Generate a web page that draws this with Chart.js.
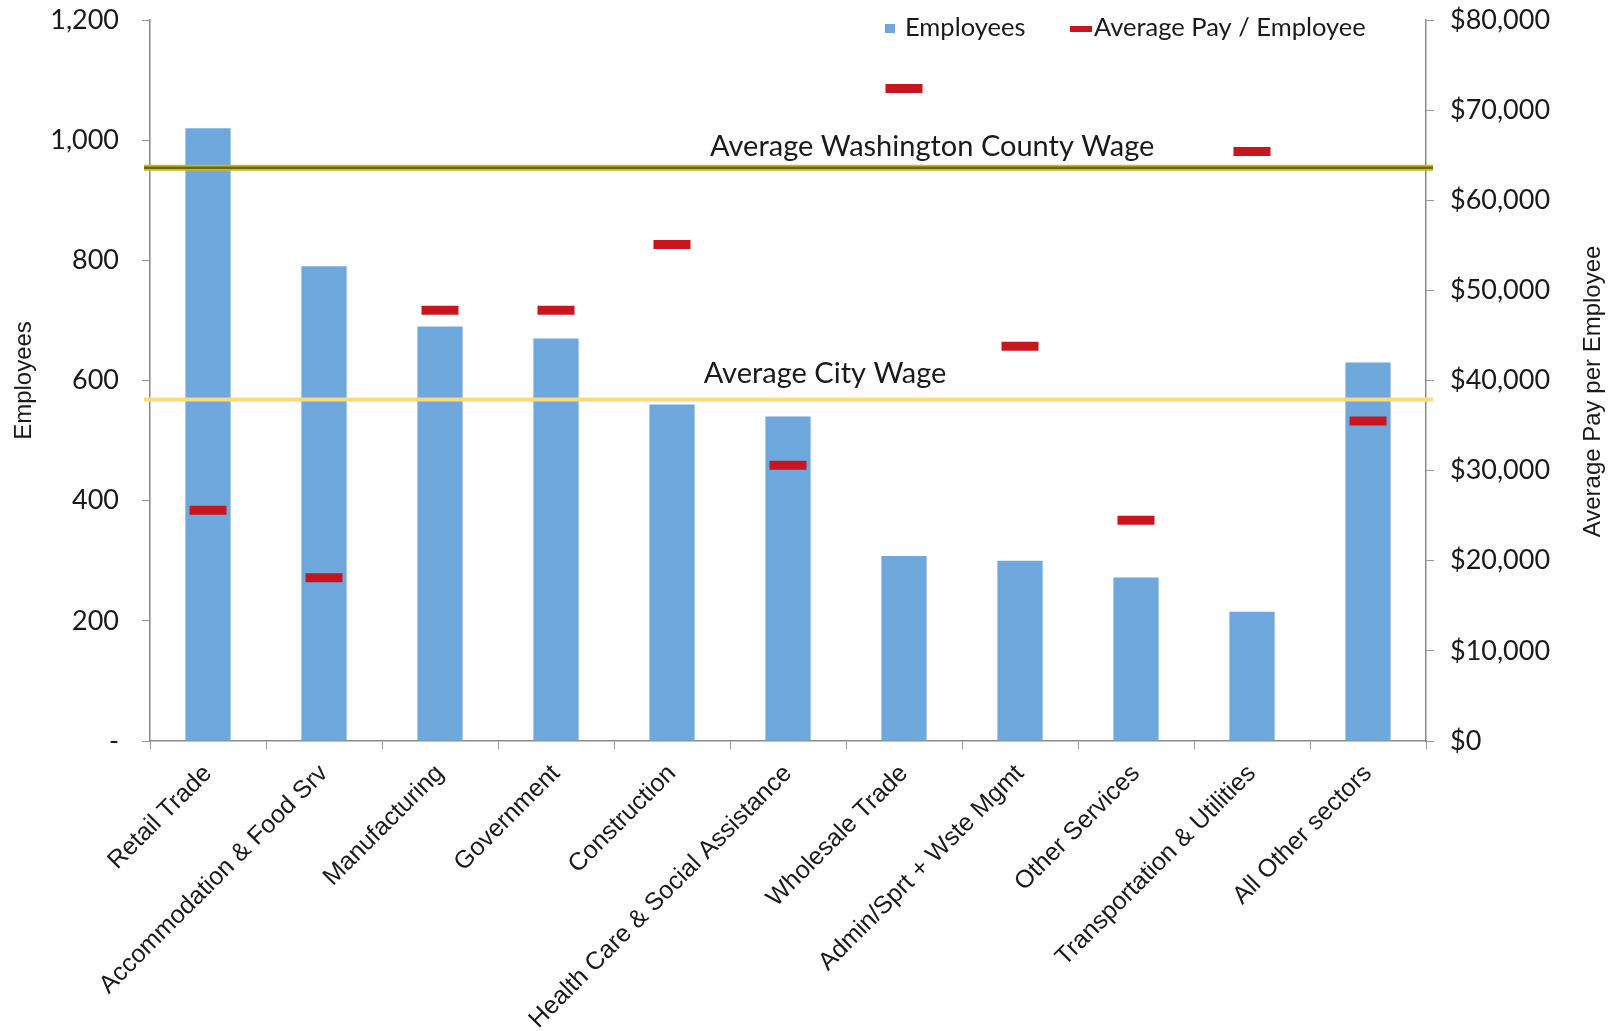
<!DOCTYPE html>
<html lang="en">
<head>
<meta charset="UTF-8">
<title>Employees and Average Pay by Sector</title>
<script src="https://cdn.jsdelivr.net/npm/chart.js"></script>
<style>
  body { margin: 0; background: #fff; }
  canvas { display: block; }
</style>
</head>
<body>
<canvas id="sectorChart" width="1613" height="1031"></canvas>
<script>
// sector data
const sectors = [
    'Retail Trade', 'Accommodation & Food Srv', 'Manufacturing', 'Government',
    'Construction', 'Health Care & Social Assistance', 'Wholesale Trade',
    'Admin/Sprt + Wste Mgmt', 'Other Services', 'Transportation & Utilities',
    'All Other sectors'
];
const employees = [1020, 790, 690, 670, 560, 540, 308, 300, 272, 215, 630];
const avgPay = [25600, 18100, 47800, 47800, 55100, 30600, 72400, 43800, 24500, 65400, 35500];

// reference wages
const countyWage = 63600;
const cityWage = 37900;

const employeeTicks = [0, 200, 400, 600, 800, 1000, 1200];
const payTicks = [0, 10000, 20000, 30000, 40000, 50000, 60000, 70000, 80000];

const BAR_BLUE = '#6fa8dc';
const PAY_RED = '#c8161e';
const TEXT = '#1a1a1a';
const LABEL_FONT = 'Lato';
const AXIS_FONT = '"Liberation Sans", Arial, sans-serif';

// horizontal wage lines + their captions
const wageLines = {
    id: 'wageLines',
    afterDatasetsDraw(chart) {
        const { ctx, chartArea } = chart;
        const pay = chart.scales.y1;
        const x0 = chartArea.left - 6;
        const x1 = chartArea.right + 7;
        const w = chartArea.right - chartArea.left;

        ctx.save();
        ctx.lineCap = 'butt';

        // county wage: olive line with yellow edges
        let y = pay.getPixelForValue(countyWage);
        ctx.strokeStyle = '#c4bc22';
        ctx.lineWidth = 6;
        ctx.beginPath(); ctx.moveTo(x0, y); ctx.lineTo(x1, y); ctx.stroke();
        ctx.strokeStyle = '#6e690a';
        ctx.lineWidth = 2.5;
        ctx.beginPath(); ctx.moveTo(x0, y); ctx.lineTo(x1, y); ctx.stroke();

        ctx.fillStyle = TEXT;
        ctx.font = '29px ' + LABEL_FONT;
        ctx.textAlign = 'center';
        ctx.textBaseline = 'middle';
        ctx.fillText('Average Washington County Wage', chartArea.left + w * 0.613, y - 21);

        // city wage: pale yellow line
        y = pay.getPixelForValue(cityWage);
        ctx.strokeStyle = '#fbd97c';
        ctx.lineWidth = 4;
        ctx.beginPath(); ctx.moveTo(x0, y); ctx.lineTo(x1, y); ctx.stroke();
        ctx.fillText('Average City Wage', chartArea.left + w * 0.529, y - 26);

        ctx.restore();
    }
};

// legend inside the plot (top right) and the right axis title read bottom-up
const extraText = {
    id: 'extraText',
    afterDraw(chart) {
        const { ctx, chartArea } = chart;
        const top = chartArea.top + 8;
        const left = chartArea.left + 735;
        ctx.save();
        ctx.fillStyle = BAR_BLUE;
        ctx.fillRect(left, top - 4, 10, 9);
        ctx.fillStyle = PAY_RED;
        ctx.fillRect(left + 185, top - 2, 22, 6);
        ctx.fillStyle = TEXT;
        ctx.font = '25.5px ' + LABEL_FONT;
        ctx.textAlign = 'left';
        ctx.textBaseline = 'middle';
        ctx.fillText('Employees', left + 20, top);
        ctx.fillText('Average Pay / Employee', left + 209, top);

        ctx.translate(1593, (chartArea.top + chartArea.bottom) / 2 + 11);
        ctx.rotate(-Math.PI / 2);
        ctx.textAlign = 'center';
        ctx.font = '24px ' + AXIS_FONT;
        ctx.fillText('Average Pay per Employee', 0, 0);
        ctx.restore();
    }
};

// fixed axis box sizes; drop the tick-label overhang padding so the plot starts near the top
function fixWidth(w) {
    return scale => {
        scale.width = w;
        scale.paddingTop = 0;
        scale.paddingBottom = 0;
    };
}

function drawChart() {
    const ctx = document.getElementById('sectorChart').getContext('2d');
    new Chart(ctx, {
        data: {
            labels: sectors,
            datasets: [
                {
                    type: 'line',
                    label: 'Average Pay / Employee',
                    data: avgPay,
                    yAxisID: 'y1',
                    showLine: false,
                    pointStyle: 'line',
                    pointRadius: 18.5,
                    pointHoverRadius: 18.5,
                    borderWidth: 9,
                    pointBorderWidth: 9,
                    borderColor: PAY_RED,
                    pointBorderColor: PAY_RED,
                    order: 0
                },
                {
                    type: 'bar',
                    label: 'Employees',
                    data: employees,
                    yAxisID: 'y',
                    backgroundColor: BAR_BLUE,
                    categoryPercentage: 1,
                    barPercentage: 0.39,
                    order: 1
                }
            ]
        },
        options: {
            responsive: false,
            animation: false,
            layout: { autoPadding: false, padding: { top: 20, right: 0, bottom: 0, left: 0 } },
            plugins: {
                legend: { display: false },
                tooltip: { enabled: false }
            },
            scales: {
                x: {
                    afterFit: scale => { scale.height = 290; },
                    grid: {
                        offset: true,
                        drawOnChartArea: false,
                        tickLength: 8,
                        color: '#999'
                    },
                    border: { color: '#8a8a8a', width: 1.5 },
                    ticks: {
                        minRotation: 45,
                        maxRotation: 45,
                        padding: 10,
                        color: TEXT,
                        font: { family: AXIS_FONT, size: 25 }
                    }
                },
                y: {
                    position: 'left',
                    min: 0,
                    max: 1200,
                    afterFit: fixWidth(150),
                    afterBuildTicks: scale => { scale.ticks = employeeTicks.map(v => ({ value: v })); },
                    grid: { drawOnChartArea: false, tickLength: 8, color: '#999' },
                    border: { color: '#8a8a8a', width: 1.5 },
                    ticks: {
                        padding: 23,
                        color: TEXT,
                        font: { family: LABEL_FONT, size: 27 },
                        callback: v => v === 0 ? '-' : v.toLocaleString('en-US')
                    },
                    title: {
                        display: true,
                        text: 'Employees',
                        color: TEXT,
                        padding: { top: 10, bottom: 0 },
                        font: { family: AXIS_FONT, size: 24 }
                    }
                },
                y1: {
                    position: 'right',
                    min: 0,
                    max: 80000,
                    afterFit: fixWidth(187),
                    afterBuildTicks: scale => { scale.ticks = payTicks.map(v => ({ value: v })); },
                    grid: { drawOnChartArea: false, tickLength: 8, color: '#999' },
                    border: { color: '#8a8a8a', width: 1.5 },
                    ticks: {
                        padding: 16,
                        color: TEXT,
                        font: { family: LABEL_FONT, size: 27 },
                        callback: v => '$' + v.toLocaleString('en-US')
                    }
                }
            }
        },
        plugins: [wageLines, extraText]
    });
}

Promise.all([
    document.fonts.load('26px Lato'),
    document.fonts.load('23px "Liberation Sans"')
]).then(drawChart, drawChart);
</script>
</body>
</html>
